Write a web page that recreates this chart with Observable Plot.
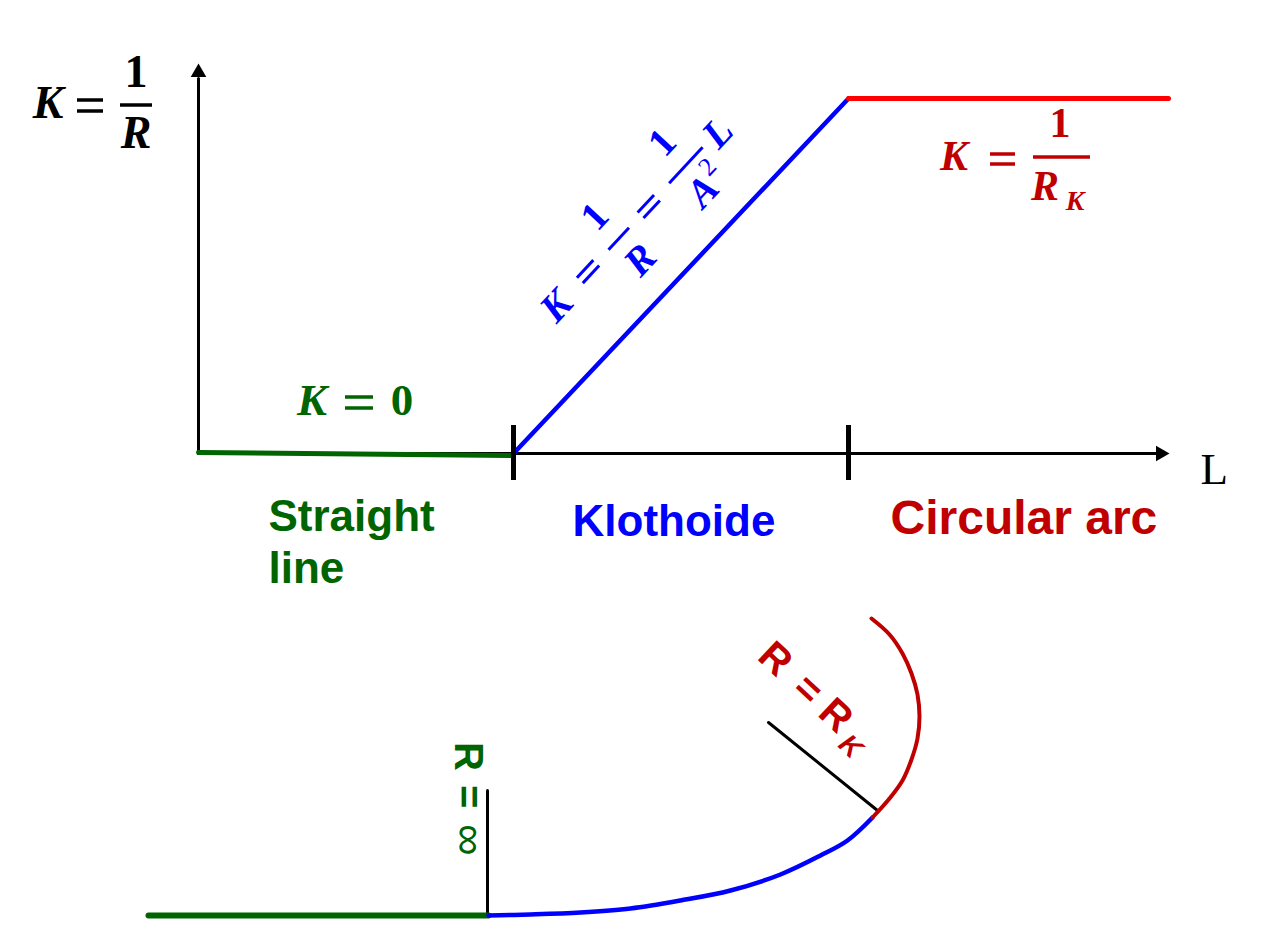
<!DOCTYPE html>
<html><head><meta charset="utf-8">
<script src="https://cdn.jsdelivr.net/npm/d3@7"></script>
<script src="https://cdn.jsdelivr.net/npm/@observablehq/plot@0.6"></script>
<style>html,body{margin:0;padding:0;background:#fff;} svg{display:block}</style>
</head><body><div id="chart"></div>
<script>
// ---------- data (diagram units: L to the right, K upward; origin at axis origin) ----------
const sectionNames = ["Straight\nline", "Klothoide", "Circular arc"];
const sectionStartL = [70, 374, 692];
const sectionBreaks = [315, 650];          // L where the sections meet (tick marks)
const straightK = [{L: 0, K: 1}, {L: 315, K: -2}];
const clothoidK = [{L: 315, K: 0}, {L: 650, K: 355}];
const arcK = [{L: 650, K: 355}, {L: 970, K: 355}];
const axisEnd = {L: 960, K: 375};
const axisName = "L";

// plan view (same units, below the graph)
const planStraight = [{x: -50, y: -462}, {x: 290, y: -462}];
const planClothoid = [
  {x: 290, y: -462}, {x: 332, y: -461}, {x: 382, y: -459}, {x: 432, y: -455},
  {x: 482, y: -447}, {x: 532, y: -437}, {x: 582, y: -421}, {x: 622, y: -402},
  {x: 649, y: -387}, {x: 674, y: -364}
];
const planArc = [
  {x: 674, y: -364}, {x: 691, y: -345}, {x: 704, y: -327}, {x: 713, y: -306},
  {x: 719, y: -285}, {x: 721, y: -263}, {x: 719, y: -241}, {x: 713, y: -220},
  {x: 704, y: -200}, {x: 691, y: -181}, {x: 673, y: -165}
];
const planRadius = [{x: 679, y: -357}, {x: 570, y: -269}];
const planInfinite = [{x: 289, y: -337}, {x: 289, y: -462}];

// formula texts
const fYaxis = ["K", "1", "R"];
const fZero = ["K", "0"];
const fClothoid = ["K", "1", "R", "1", "A", "2", "L"];
const fArc = ["K", "1", "R", "K"];
const fPlanStraight = ["R", "=", "∞"];
const fPlanArc = ["R", "=", "R", "K"];

// ---------- colours ----------
const GREEN = "#006400", BLUE = "#0000ff", RED = "#ff0000", DARKRED = "#c00000";
const SERIF = "Liberation Serif, Times New Roman, serif";
const SANS = "Liberation Sans, Arial, sans-serif";

// ---------- helpers for formula marks ----------
const NS = "http://www.w3.org/2000/svg";
function addText(g, s, x, y, o) {
  const t = document.createElementNS(NS, "text");
  t.setAttribute("x", x); t.setAttribute("y", y);
  t.setAttribute("text-anchor", o.anchor || "middle");
  t.setAttribute("font-family", o.family || SERIF);
  t.setAttribute("font-size", o.size);
  t.setAttribute("font-weight", o.weight || "bold");
  t.setAttribute("font-style", o.style || "normal");
  t.setAttribute("fill", o.fill);
  t.textContent = s;
  g.appendChild(t);
}
function addBar(g, x1, x2, y, w, stroke) {
  const l = document.createElementNS(NS, "line");
  l.setAttribute("x1", x1); l.setAttribute("x2", x2);
  l.setAttribute("y1", y); l.setAttribute("y2", y);
  l.setAttribute("stroke", stroke); l.setAttribute("stroke-width", w);
  g.appendChild(l);
}
function addEquals(g, x1, x2, yTop, yBottom, w, stroke) {
  addBar(g, x1, x2, yTop, w, stroke);
  addBar(g, x1, x2, yBottom, w, stroke);
}
function formulaMark(at, angle, draw) {
  return (index, scales) => {
    const g = document.createElementNS(NS, "g");
    g.setAttribute("transform", `translate(${scales.x(at[0])},${scales.y(at[1])}) rotate(${angle})`);
    draw(g);
    return g;
  };
}

const plot = Plot.plot({
  width: 1271, height: 947,
  marginTop: 0, marginRight: 0, marginBottom: 0, marginLeft: 0,
  x: {domain: [-198, 1073], axis: null},
  y: {domain: [-494, 453], axis: null},
  style: {background: "#fff", overflow: "visible"},
  marks: [
    // axes
    Plot.line([{L: 0, K: 0}, {L: 0, K: axisEnd.K}], {x: "L", y: "K", stroke: "#000", strokeWidth: 3}),
    Plot.line([{L: 0, K: 0}, {L: axisEnd.L, K: 0}], {x: "L", y: "K", stroke: "#000", strokeWidth: 3}),
    Plot.dot([{L: 0, K: axisEnd.K + 6}], {x: "L", y: "K", symbol: "triangle", r: 5.8, fill: "#000", stroke: null}),
    Plot.dot([{L: axisEnd.L + 2, K: 0}], {x: "L", y: "K", symbol: "triangle", r: 5.8, fill: "#000", stroke: null, rotate: 90}),
    // curvature diagram
    Plot.line(straightK, {x: "L", y: "K", stroke: GREEN, strokeWidth: 5}),
    Plot.line(clothoidK, {x: "L", y: "K", stroke: BLUE, strokeWidth: 4.5}),
    Plot.line(arcK, {x: "L", y: "K", stroke: RED, strokeWidth: 5}),
    Plot.ruleX(sectionBreaks, {x: d => d, y1: 28, y2: -27, stroke: "#000", strokeWidth: 5}),
    // section names
    Plot.text(sectionNames, {
      x: (d, i) => sectionStartL[i], y: (d, i) => i === 0 ? -129 : (i === 1 ? -82 : -80),
      text: d => d, textAnchor: "start", lineAnchor: "bottom", lineHeight: 1.18,
      fill: [GREEN, BLUE, DARKRED], fontFamily: SANS, fontWeight: "bold",
      fontSize: (d, i) => i === 2 ? 48 : 44
    }),
    Plot.text([axisName], {x: 1002, y: -30, text: d => d, textAnchor: "start", lineAnchor: "bottom",
      fontFamily: SERIF, fontSize: 45, fill: "#000"}),
    // K = 1/R (y axis label)
    formulaMark([-150, 335], 0, g => {
      const o = {size: 46, fill: "#000"};
      addText(g, fYaxis[0], 0, 0, {...o, style: "italic"});
      addEquals(g, 29, 55, -18, -7, 3.5, "#000");
      addBar(g, 72, 104, -13, 3.5, "#000");
      addText(g, fYaxis[1], 88, -31, o);
      addText(g, fYaxis[2], 88, 30, {...o, style: "italic"});
    }),
    // K = 0
    formulaMark([114, 38], 0, g => {
      const o = {size: 45, fill: GREEN};
      addText(g, fZero[0], 0, 0, {...o, style: "italic"});
      addEquals(g, 33, 61, -18, -7, 3.5, GREEN);
      addText(g, fZero[1], 90, 0, o);
    }),
    // K = 1/R = 1/A^2 L  (along the clothoid line)
    formulaMark([358, 147], -47, g => {
      const o = {size: 40, fill: BLUE};
      addText(g, fClothoid[0], 0, 13, {...o, style: "italic"});
      addEquals(g, 35, 59, -4, 4, 3, BLUE);
      addText(g, fClothoid[1], 92, -20, o);
      addBar(g, 77, 107, 0, 3, BLUE);
      addText(g, fClothoid[2], 91, 43, {...o, style: "italic"});
      addEquals(g, 124, 148, -4, 4, 3, BLUE);
      addText(g, fClothoid[3], 192, -21, o);
      addBar(g, 167, 216, -1, 3, BLUE);
      addText(g, fClothoid[4], 184, 42, {...o, style: "italic"});
      addText(g, fClothoid[5], 205, 24, {...o, size: 26, weight: "normal"});
      addText(g, fClothoid[6], 237, 13, {...o, style: "italic"});
    }),
    // K = 1/R_K
    formulaMark([756, 283], 0, g => {
      const o = {size: 42, fill: DARKRED};
      addText(g, fArc[0], 0, 0, {...o, style: "italic"});
      addEquals(g, 36, 61, -16, -6, 3.5, DARKRED);
      addBar(g, 79, 136, -13, 3.5, DARKRED);
      addText(g, fArc[1], 106, -33, o);
      addText(g, fArc[2], 91, 30, {...o, style: "italic"});
      addText(g, fArc[3], 121, 40, {...o, size: 28, style: "italic"});
    }),
    // plan view
    Plot.line(planInfinite, {x: "x", y: "y", stroke: "#000", strokeWidth: 3}),
    Plot.line(planRadius, {x: "x", y: "y", stroke: "#000", strokeWidth: 3}),
    Plot.line(planStraight, {x: "x", y: "y", stroke: GREEN, strokeWidth: 6}),
    Plot.line(planClothoid, {x: "x", y: "y", stroke: BLUE, strokeWidth: 4.5, curve: "catmull-rom"}),
    Plot.line(planArc, {x: "x", y: "y", stroke: DARKRED, strokeWidth: 4, curve: "catmull-rom"}),
    // R = ∞
    formulaMark([272, -289], 90, g => {
      const o = {size: 40, fill: GREEN, family: SANS, anchor: "start"};
      addText(g, fPlanStraight[0], 0, 15, o);
      addText(g, fPlanStraight[1], 43, 15, o);
      addText(g, fPlanStraight[2], 82, 15, {...o, size: 44, weight: "normal"});
    }),
    // R = R_K
    formulaMark([578, -205], 43, g => {
      const o = {size: 40, fill: DARKRED, family: SANS};
      addText(g, fPlanArc[0], 0, 14, o);
      addText(g, fPlanArc[1], 45, 14, o);
      addText(g, fPlanArc[2], 83, 14, o);
      addText(g, fPlanArc[3], 115, 23, {...o, size: 28, style: "italic"});
    })
  ]
});
document.getElementById("chart").appendChild(plot);
</script>
</body></html>
